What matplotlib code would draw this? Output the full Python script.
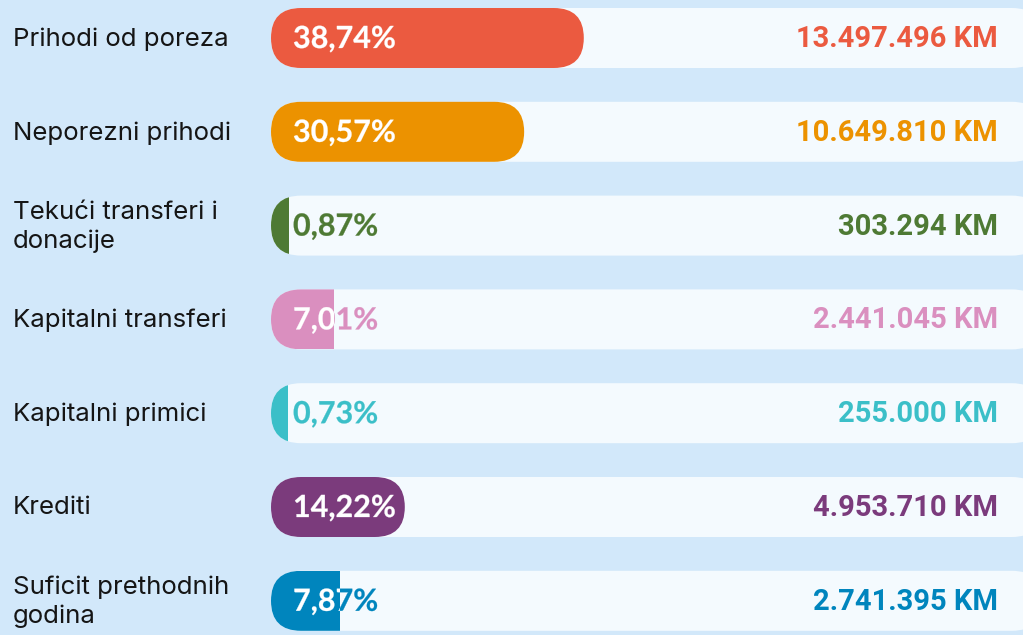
import matplotlib
matplotlib.use("Agg")
import matplotlib.pyplot as plt
from matplotlib.patches import FancyBboxPatch, Rectangle, PathPatch
from matplotlib.textpath import TextPath
from matplotlib.font_manager import FontProperties
from matplotlib.transforms import Affine2D

categories = ["Prihodi od poreza", "Neporezni prihodi", "Tekući transferi i\ndonacije",
              "Kapitalni transferi", "Kapitalni primici", "Krediti", "Suficit prethodnih\ngodina"]
percents = [38.74, 30.57, 0.87, 7.01, 0.73, 14.22, 7.87]
pct_labels = ["38,74%", "30,57%", "0,87%", "7,01%", "0,73%", "14,22%", "7,87%"]
amount_labels = ["13.497.496 KM", "10.649.810 KM", "303.294 KM", "2.441.045 KM",
                 "255.000 KM", "4.953.710 KM", "2.741.395 KM"]
colors = ["#EB5A40", "#EC9200", "#4E7A34", "#DA8FBF", "#3BBFC8", "#7B3B7C", "#0085BD"]

BG = "#D2E8FA"
TRACK = "#F4FAFE"

W, H = 1023, 635
fig = plt.figure(figsize=(W / 100, H / 100), dpi=100)
fig.patch.set_facecolor(BG)
ax = fig.add_axes([0, 0, 1, 1])
ax.set_xlim(0, W)
ax.set_ylim(H, 0)
ax.axis("off")

x0 = 271
track_right = 1042
bar_h = 60
r = bar_h / 2
row0 = 38
step = 93.8
scale = 7.3   # px per percent
base = 12     # minimum visible fill
cap = 18      # extra round cap for wide bars

pct_font = FontProperties(family=["Lato", "DejaVu Sans"], weight="bold")
pct_px = 30.5


def pct_patch(s, x, baseline, color, zorder):
    tp = TextPath((0, 0), s, size=pct_px, prop=pct_font)
    tr = Affine2D().scale(1, -1).translate(x, baseline) + ax.transData
    pp = PathPatch(tp, transform=tr, fc=color, ec=color, lw=0.2, zorder=zorder)
    ax.add_patch(pp)
    return pp


for i, (cat, p, pl, al, c) in enumerate(zip(categories, percents, pct_labels, amount_labels, colors)):
    yc = row0 + i * step
    top = yc - bar_h / 2
    track = FancyBboxPatch((x0, top), track_right - x0, bar_h,
                           boxstyle=f"round,pad=0,rounding_size={r}",
                           fc=TRACK, ec="none", zorder=1)
    ax.add_patch(track)
    w = p * scale + base
    if w >= 2 * r + 20:
        fill = FancyBboxPatch((x0, top), w + cap, bar_h,
                              boxstyle=f"round,pad=0,rounding_size={r}",
                              fc=c, ec="none", zorder=2)
        ax.add_patch(fill)
    else:
        fill = Rectangle((x0, top), w, bar_h, fc=c, ec="none", zorder=2)
        ax.add_patch(fill)
        fill.set_clip_path(track)
    baseline = yc + 10
    pct_patch(pl, 293, baseline, c, 3)
    white = pct_patch(pl, 293, baseline, "white", 4)
    white.set_clip_path(fill)
    # amount
    ax.text(998, yc + 1, al, color=c, fontsize=21, fontweight="bold",
            family=["Roboto", "DejaVu Sans"], va="center", ha="right", zorder=3)
    # category
    ax.text(13, yc + 1, cat, color="#151515", fontsize=18.6,
            family=["Inter", "DejaVu Sans"], va="center", ha="left",
            linespacing=1.3, zorder=3)

fig.savefig("out.png", dpi=100, facecolor=BG)
